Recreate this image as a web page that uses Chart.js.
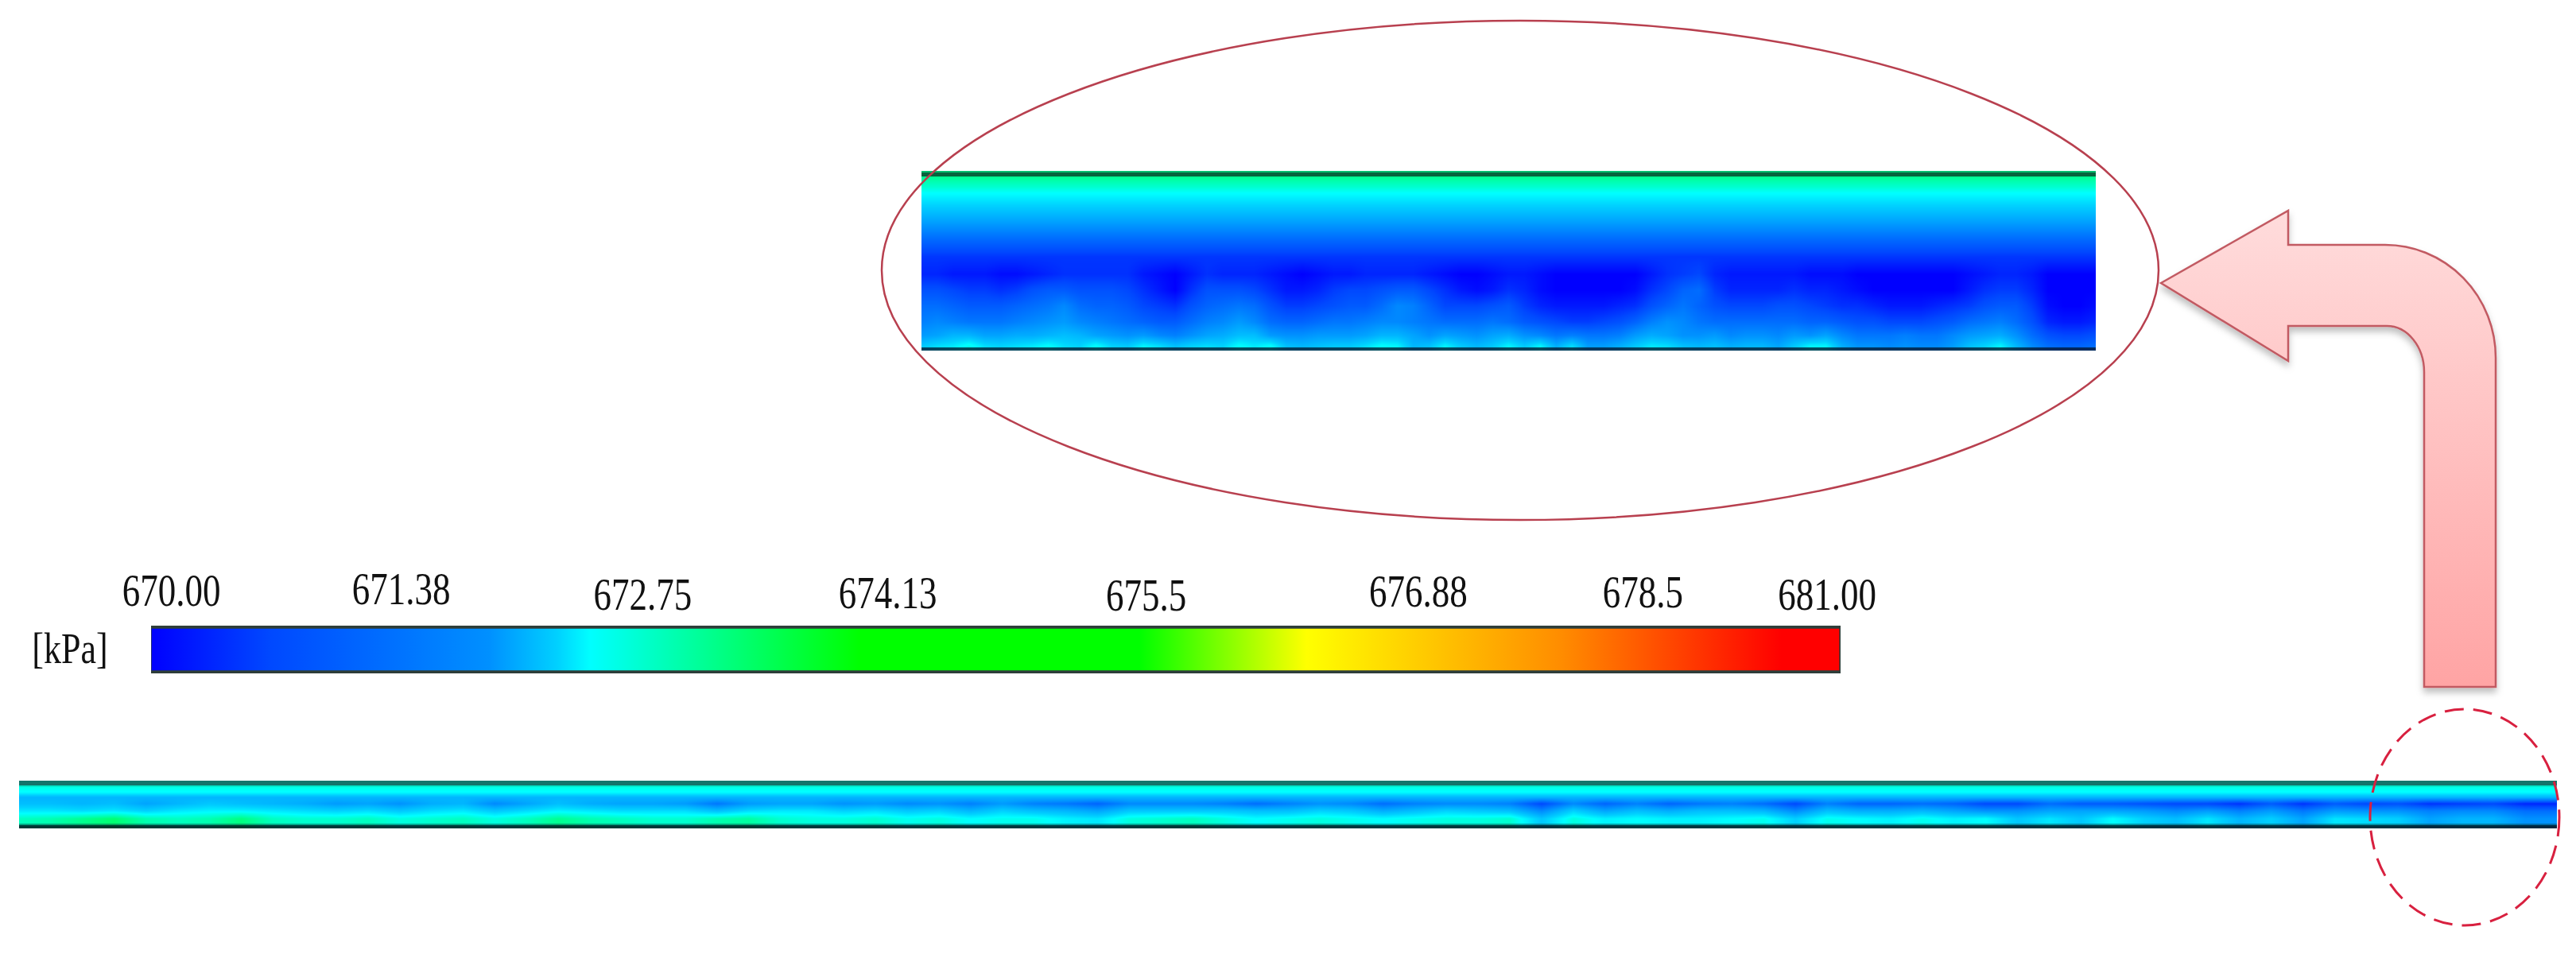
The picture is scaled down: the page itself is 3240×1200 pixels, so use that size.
<!DOCTYPE html>
<html>
<head>
<meta charset="utf-8">
<title>Pressure contour</title>
<script src="https://cdn.jsdelivr.net/npm/chart.js@4/dist/chart.umd.min.js"></script>
<style>
  html, body { margin: 0; background: #fff; }
  body { position: relative; width: 3240px; height: 1200px; overflow: hidden; }
  canvas, svg { position: absolute; display: block; }
</style>
</head>
<body>
<canvas id="zoomChart" style="left:1159px;top:215px" width="1477" height="226"></canvas>
<canvas id="barChart" style="left:0;top:690px" width="2420" height="170"></canvas>
<canvas id="pipeChart" style="left:24px;top:982px" width="3192" height="60"></canvas>

<!-- callouts on top of the charts -->
<svg width="3240" height="1200" viewBox="0 0 3240 1200">
  <defs>
    <linearGradient id="arrowFill" x1="0" y1="0" x2="0" y2="1">
      <stop offset="0" stop-color="#ffdcdc"/>
      <stop offset="1" stop-color="#ffa4a4"/>
    </linearGradient>
    <filter id="arrowShadow" x="-10%" y="-10%" width="120%" height="120%">
      <feDropShadow dx="0" dy="6" stdDeviation="4" flood-color="#000" flood-opacity="0.25"/>
    </filter>
  </defs>
  <ellipse cx="1912" cy="340" rx="803" ry="314" fill="none" stroke="#b8404f" stroke-width="2.5"/>
  <path d="M2718,356 L2878,265 L2878,308 L3000,308 A139,142 0 0 1 3139,450 L3139,864 L3049,864 L3049,468 A47,58 0 0 0 3002,410 L2878,410 L2878,454 Z"
        fill="url(#arrowFill)" stroke="#c25a62" stroke-width="2.5" filter="url(#arrowShadow)"/>
  <ellipse cx="3100" cy="1028" rx="119" ry="136" fill="none" stroke="#d8203f" stroke-width="3" stroke-dasharray="24 12"/>
</svg>

<script>
// colour scale
const tickLabels = ['670.00', '671.38', '672.75', '674.13', '675.5', '676.88', '678.5', '681.00'];
const scaleValues = [670, 670.6, 671.38, 672.1, 672.5, 673.3, 674.13, 675.5, 676.6, 678.5, 680.6];
const scaleColors = ['#0000ff', '#0048ff', '#0090ff', '#00d0ff', '#00ffff', '#00ff80', '#00ff00', '#00ff00', '#ffff00', '#ff8c00', '#ff0000'];
const unitLabel = '[kPa]';

// close-up of the pipe end: depth below the top wall, then pressure [kPa]
const zoomDepths = [0.03, 0.088, 0.124, 0.177, 0.23, 0.31, 0.376, 0.478, 0.575, 0.664, 0.752, 0.841, 0.916, 0.973];
const zoomRow1 = [
  670.3,670.3,670.2,670.2,670.2,670.1,670.1,670.2,670.3,670.4,
  670.4,670.4,670.4,670.4,670.2,670.1,670.0,670.2,670.4,670.3,
  670.3,670.3,670.2,670.1,670.0,670.1,670.2,670.2,670.3,670.3,
  670.3,670.3,670.2,670.1,670.0,670.0,670.1,670.2,670.2,670.1,
  670.0,670.0,670.0,670.0,670.0,670.0,670.2,670.4,670.5,670.6,
  670.3,670.2,670.2,670.2,670.2,670.2,670.1,670.1,670.1,670.0,
  670.0,670.0,670.0,670.0,670.0,670.0,670.1,670.2,670.3,670.3,
  670.2,670.0,670.0,670.0,670.0];
const zoomRow2 = [
  670.7,670.7,670.6,670.5,670.5,670.4,670.5,670.7,670.8,670.8,
  670.7,670.7,670.7,670.6,670.4,670.2,670.0,670.4,670.7,670.7,
  670.7,670.6,670.4,670.2,670.2,670.3,670.5,670.6,670.6,670.7,
  670.8,670.8,670.6,670.4,670.2,670.1,670.2,670.4,670.3,670.1,
  670.0,670.0,670.0,670.0,670.0,670.1,670.4,670.6,670.9,671.0,
  670.5,670.3,670.3,670.3,670.3,670.4,670.3,670.3,670.2,670.1,
  670.0,670.0,670.0,670.0,670.0,670.0,670.2,670.4,670.5,670.5,
  670.3,670.0,670.0,670.0,670.0];
const zoomRow3 = [
  671.0,671.0,670.9,670.8,670.8,670.8,670.9,671.0,671.1,671.3,
  671.0,670.9,670.9,670.8,670.6,670.5,670.4,670.7,670.9,671.0,
  671.1,671.0,670.7,670.5,670.5,670.6,670.7,670.8,670.8,671.0,
  671.3,671.2,670.9,670.6,670.6,670.6,670.7,670.8,670.5,670.3,
  670.2,670.2,670.2,670.2,670.3,670.4,670.7,670.9,671.1,670.9,
  670.7,670.6,670.6,670.6,670.7,670.7,670.6,670.5,670.4,670.4,
  670.3,670.2,670.2,670.2,670.3,670.4,670.5,670.7,670.8,670.8,
  670.5,670.1,670.0,670.0,670.1];
const zoomRow4 = [
  671.2,671.3,671.2,671.1,671.1,671.1,671.2,671.3,671.4,671.5,
  671.3,671.2,671.1,671.0,670.9,670.8,670.8,671.0,671.2,671.3,
  671.5,671.3,671.0,670.9,670.9,671.0,671.1,671.1,671.2,671.3,
  671.3,671.2,671.1,671.0,671.0,671.0,671.1,671.0,670.8,670.7,
  670.6,670.5,670.5,670.6,670.7,670.9,671.2,671.4,671.3,671.1,
  671.0,671.0,671.0,671.0,671.0,671.0,670.9,670.9,670.8,670.7,
  670.7,670.6,670.6,670.6,670.7,670.8,671.0,671.1,671.2,671.0,
  670.7,670.3,670.2,670.2,670.3];
const zoomRow5 = [
  671.5,671.6,671.8,671.8,671.6,671.6,671.7,671.7,671.8,671.9,
  671.8,671.6,671.5,671.4,671.5,671.3,671.2,671.4,671.6,671.7,
  671.9,671.9,671.5,671.4,671.4,671.5,671.5,671.5,671.6,671.8,
  671.8,671.6,671.4,671.6,671.5,671.4,671.6,671.7,671.4,671.3,
  671.1,671.2,671.1,671.1,671.2,671.5,671.7,671.6,671.4,671.4,
  671.5,671.3,671.4,671.4,671.3,671.5,671.4,671.6,671.3,671.1,
  671.1,671.1,671.2,671.1,671.1,671.3,671.5,671.6,671.7,671.4,
  671.0,670.7,670.6,670.6,670.7];
const zoomRow6 = [
  672.0,672.2,672.3,672.6,672.2,672.1,672.2,672.3,672.5,672.2,
  672.1,672.5,672.1,672.0,672.4,672.2,671.9,672.1,672.2,672.1,
  672.5,672.3,672.5,671.9,671.8,671.9,672.0,672.0,672.2,672.5,
  672.4,671.8,671.9,672.4,672.0,671.8,672.0,672.4,672.0,672.4,
  671.7,672.2,671.5,671.5,671.7,672.0,672.3,672.2,671.9,671.8,
  671.9,671.7,671.8,671.8,671.6,672.0,672.4,672.4,671.7,671.4,
  671.4,671.3,671.4,671.3,671.3,671.5,671.9,672.1,672.4,671.8,
  671.3,671.0,670.9,670.9,671.0];
const zoomRows = [673.2, 672.8, 672.5, 672.2, 671.9, 671.4, 671.0, 670.45,
  zoomRow1, zoomRow2, zoomRow3, zoomRow4, zoomRow5, zoomRow6];

// whole pipe
const pipeDepths = [0.117, 0.25, 0.35, 0.483, 0.633, 0.8];
const pipeMid = [
  671.9,671.9,671.8,671.9,671.6,671.8,672.0,671.9,671.8,671.7,
  671.5,671.6,671.4,671.7,671.8,671.3,671.6,671.9,671.7,671.6,
  671.6,671.5,671.1,671.5,671.6,671.6,671.4,671.5,671.3,671.4,
  671.2,671.5,671.2,671.1,670.9,671.3,671.3,671.3,671.2,671.0,
  671.2,671.4,671.3,671.0,671.2,671.3,671.3,671.2,670.6,671.3,
  670.9,671.2,670.9,671.1,671.2,671.0,670.6,671.2,670.9,670.9,
  671.0,670.9,670.6,670.6,671.0,670.8,670.8,670.7,670.6,670.6,
  670.4,670.8,670.4,670.8,670.6,670.7,670.4,670.5,670.6,670.3,670.3];
const pipeLow = [
  672.3,672.3,672.2,672.3,672.1,672.3,672.4,672.4,672.3,672.2,
  672.1,672.2,672.0,672.2,672.3,672.0,672.2,672.4,672.3,672.2,
  672.2,672.2,671.9,672.2,672.3,672.3,672.1,672.2,672.0,672.1,
  671.8,672.1,671.9,671.8,671.6,672.0,672.0,672.0,672.0,671.9,
  671.9,672.1,672.0,671.7,671.9,672.1,672.0,671.9,671.3,672.1,
  671.6,671.9,671.7,671.9,671.9,671.8,671.3,671.9,671.7,671.7,
  671.8,671.6,671.4,671.4,671.6,671.6,671.6,671.5,671.3,671.5,
  671.2,671.5,671.1,671.5,671.4,671.4,671.2,671.3,671.3,671.0,671.0];
const pipeWall = [
  672.9,673.0,673.2,673.4,673.0,672.9,673.0,673.3,672.9,672.8,
  672.8,672.9,672.7,672.8,672.9,672.7,672.9,673.2,673.0,672.9,
  672.8,672.8,673.0,673.1,672.8,672.7,672.7,672.8,672.6,672.7,
  672.5,672.6,672.6,672.4,672.3,672.7,672.8,672.9,672.7,672.5,
  672.6,672.7,672.6,672.5,672.6,672.7,672.7,672.8,672.0,672.7,
  672.4,672.5,672.4,672.4,672.5,672.6,672.1,672.6,672.5,672.4,
  672.6,672.4,672.5,672.0,672.3,672.0,672.5,672.1,671.9,672.3,
  671.8,672.1,671.6,672.3,672.2,672.1,671.6,671.8,671.8,671.4,671.4];
const pipeRows = [672.7, 672.45, 671.8, pipeMid, pipeLow, pipeWall];

// where the legend ticks and colours sit along the bar (it is not linear in kPa)
const tickPos = [0.012, 0.148, 0.291, 0.436, 0.589, 0.75, 0.883, 0.992];
const tickRaise = [40, 42, 35, 37, 34, 39, 38, 35];
const colorPos = [0, 0.07, 0.2, 0.24, 0.26, 0.34, 0.42, 0.585, 0.684, 0.835, 0.965];

const serif = '"Liberation Serif", "Times New Roman", serif';

function hexRgb(h) {
    return [1, 3, 5].map(i => parseInt(h.substr(i, 2), 16));
}

// value -> colour lookup, 668..682 kPa
const lutMin = 668, lutMax = 682, lutSize = 2048;
const lut = [];
for (let i = 0; i < lutSize; i++) {
    const v = lutMin + (lutMax - lutMin) * i / (lutSize - 1);
    let k = 0;
    while (k < scaleValues.length - 2 && v > scaleValues[k + 1]) k++;
    const t = Math.max(0, Math.min(1, (v - scaleValues[k]) / (scaleValues[k + 1] - scaleValues[k])));
    const a = hexRgb(scaleColors[k]), b = hexRgb(scaleColors[k + 1]);
    lut.push([0, 1, 2].map(c => a[c] + (b[c] - a[c]) * t));
}

function rowValue(row, j) {
    return typeof row === 'number' ? row : row[Math.min(j, row.length - 1)];
}

// paints the field through the chart's x/y scales, smoothing between cells
const heatPlugin = {
    id: 'heat',
    beforeDatasetsDraw(chart, args, opts) {
        const { left, top, width, height } = chart.chartArea;
        const w = Math.round(width), h = Math.round(height);
        const img = chart.ctx.createImageData(w, h);
        const depths = opts.depths, rows = opts.rows;
        for (let py = 0; py < h; py++) {
            const d = chart.scales.y.getValueForPixel(top + py + 0.5);
            let i = 0;
            while (i < depths.length - 2 && d > depths[i + 1]) i++;
            const fy = Math.max(0, Math.min(1, (d - depths[i]) / (depths[i + 1] - depths[i])));
            for (let px = 0; px < w; px++) {
                const c = chart.scales.x.getValueForPixel(left + px + 0.5);
                const j = Math.max(0, Math.floor(c));
                const fx = c - j;
                const a = rowValue(rows[i], j) * (1 - fx) + rowValue(rows[i], j + 1) * fx;
                const b = rowValue(rows[i + 1], j) * (1 - fx) + rowValue(rows[i + 1], j + 1) * fx;
                const v = a * (1 - fy) + b * fy;
                const col = lut[Math.round((v - lutMin) / (lutMax - lutMin) * (lutSize - 1))];
                const o = (py * w + px) * 4;
                img.data[o] = col[0];
                img.data[o + 1] = col[1];
                img.data[o + 2] = col[2];
                img.data[o + 3] = 255;
            }
        }
        chart.ctx.putImageData(img, left, top);
    },
    // dark wall lines, see-through so the field colour tints them
    afterDatasetsDraw(chart, args, opts) {
        const { left, right, top, bottom } = chart.chartArea;
        const ctx = chart.ctx;
        ctx.save();
        opts.walls.forEach(w => {
            ctx.fillStyle = w.color;
            ctx.fillRect(left, w.side === 'top' ? top + w.from : bottom - w.from - w.size, right - left, w.size);
        });
        ctx.restore();
    }
};

function heatChart(id, depths, rows, walls) {
    const cols = Math.max(...rows.map(r => typeof r === 'number' ? 0 : r.length));
    const cells = [];
    rows.forEach((r, i) => {
        for (let j = 0; j < cols; j++) cells.push({ x: j, y: depths[i], v: rowValue(r, j) });
    });
    return new Chart(document.getElementById(id), {
        type: 'scatter',
        data: { datasets: [{ label: 'Pressure [kPa]', data: cells, pointRadius: 0 }] },
        options: {
            responsive: false,
            animation: false,
            devicePixelRatio: 1,
            events: [],
            layout: { padding: 0 },
            plugins: {
                legend: { display: false },
                tooltip: { enabled: false },
                heat: { depths, rows, walls }
            },
            scales: {
                x: { type: 'linear', min: 0, max: cols - 1, display: false },
                y: { type: 'linear', min: 0, max: 1, reverse: true, display: false }
            }
        },
        plugins: [heatPlugin]
    });
}

heatChart('zoomChart', zoomDepths, zoomRows, [
    { side: 'top', from: 0, size: 2, color: 'rgba(10,70,50,0.35)' },
    { side: 'top', from: 2, size: 5, color: 'rgba(10,40,30,0.72)' },
    { side: 'bottom', from: 0, size: 4, color: 'rgba(0,20,40,0.75)' }
]);

heatChart('pipeChart', pipeDepths, pipeRows, [
    { side: 'top', from: 0, size: 6, color: 'rgba(30,50,50,0.68)' },
    { side: 'top', from: 6, size: 2, color: 'rgba(0,60,60,0.12)' },
    { side: 'bottom', from: 0, size: 4, color: 'rgba(0,20,30,0.85)' },
    { side: 'bottom', from: 4, size: 2, color: 'rgba(0,60,60,0.45)' }
]);

// legend bar labels are squeezed in the source picture, so stretch them
const labelsPlugin = {
    id: 'barLabels',
    afterDraw(chart) {
        const ctx = chart.ctx;
        const x = chart.scales.x;
        const top = chart.chartArea.top;
        const stretch = 1.26;
        ctx.save();
        ctx.fillStyle = '#111';
        ctx.textAlign = 'center';
        ctx.textBaseline = 'middle';
        ctx.font = '45px ' + serif;
        tickLabels.forEach((t, i) => {
            ctx.save();
            ctx.translate(x.getPixelForValue(tickPos[i]), top - tickRaise[i]);
            ctx.scale(1, stretch);
            ctx.fillText(t, 0, 0);
            ctx.restore();
        });
        ctx.translate(x.getPixelForValue(0) - 102, top + 32);
        ctx.scale(1, stretch);
        ctx.font = '44px ' + serif;
        ctx.fillText(unitLabel, 0, 0);
        ctx.restore();
    }
};

new Chart(document.getElementById('barChart'), {
    type: 'bar',
    data: {
        labels: [unitLabel],
        datasets: [{
            data: [[0, 1]],
            backgroundColor: c => {
                const area = c.chart.chartArea;
                if (!area) return '#00f';
                const g = c.chart.ctx.createLinearGradient(area.left, 0, area.right, 0);
                colorPos.forEach((p, i) => g.addColorStop(p, scaleColors[i]));
                g.addColorStop(1, scaleColors[scaleColors.length - 1]);
                return g;
            },
            borderColor: 'rgba(0,20,15,0.82)',
            borderWidth: { top: 4, bottom: 4, left: 1, right: 2 },
            borderSkipped: false,
            barPercentage: 1,
            categoryPercentage: 1
        }]
    },
    options: {
        indexAxis: 'y',
        responsive: false,
        animation: false,
        devicePixelRatio: 1,
        events: [],
        layout: { padding: { left: 190, right: 105, top: 97, bottom: 13 } },
        plugins: { legend: { display: false }, tooltip: { enabled: false } },
        scales: {
            x: { type: 'linear', min: 0, max: 1, display: false },
            y: { display: false }
        }
    },
    plugins: [labelsPlugin]
});
</script>
</body>
</html>
